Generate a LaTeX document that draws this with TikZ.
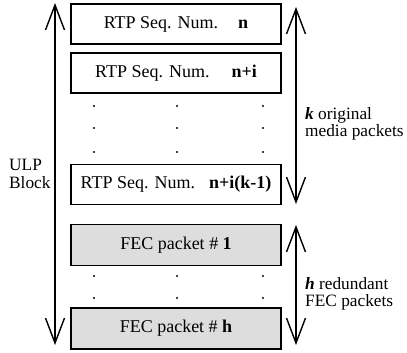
\documentclass[tikz,border=0pt]{standalone}
\usepackage{fontspec}
\setmainfont{Liberation Serif}
\usetikzlibrary{arrows.meta}
\definecolor{fecgray}{RGB}{221,221,221}
\tikzset{
  pkt/.style={draw=black, line width=1.8pt, minimum width=210pt, inner sep=0pt, font=\fontsize{18}{18.5}\selectfont},
  rtp/.style={pkt, minimum height=40pt, fill=white},
  fec/.style={pkt, minimum height=41pt, fill=fecgray},
  arr/.style={line width=1.4pt, {Straight Barb[length=25pt,width=19pt,line width=1.4pt]}-{Straight Barb[length=25pt,width=19pt,line width=1.4pt]}},
  lbl/.style={align=left, inner sep=0pt, font=\fontsize{17.3}{17.5}\selectfont},
  dotm/.style={fill=black}
}
\begin{document}
\begin{tikzpicture}[x=1pt,y=-1pt]
\useasboundingbox (0,0) rectangle (407,353);
\node[rtp] (b1) at (176,24) {RTP Seq. Num.\hspace{20pt}\textbf{n}};
\node[rtp] (b2) at (176,73) {RTP Seq. Num.\hspace{22pt}\textbf{n+i}};
\node[rtp] (b3) at (176,184.5) {RTP Seq. Num.\hspace{14pt}\textbf{n+i(k-1)}};
\node[fec] (f1) at (176,245) {FEC packet \# \textbf{1}};
\node[fec] (fh) at (176,328.5) {FEC packet \# \textbf{h}};
\foreach \y in {106,128,152,276,298}{
  \foreach \x in {94,177,263}{
    \fill[dotm] (\x,\y) circle (1.2pt);
  }
}
\coordinate (ulptop) at (55,3);
\coordinate (ulpbot) at (55,345);
\coordinate (ktop) at (296,7);
\coordinate (kbot) at (296,204);
\coordinate (htop) at (296,225);
\coordinate (hbot) at (296,345);
\draw[arr] (ulpbot) -- (ulptop);
\draw[arr] (kbot) -- (ktop);
\draw[arr] (hbot) -- (htop);
\node[lbl, anchor=west] (ulp) at (9,174) {ULP\\Block};
\node[lbl, anchor=west] (klbl) at (305,124) {\textbf{\textit{k}} original\\media packets};
\node[lbl, anchor=west] (hlbl) at (305,294) {\textbf{\textit{h}} redundant\\FEC packets};
\end{tikzpicture}
\end{document}
